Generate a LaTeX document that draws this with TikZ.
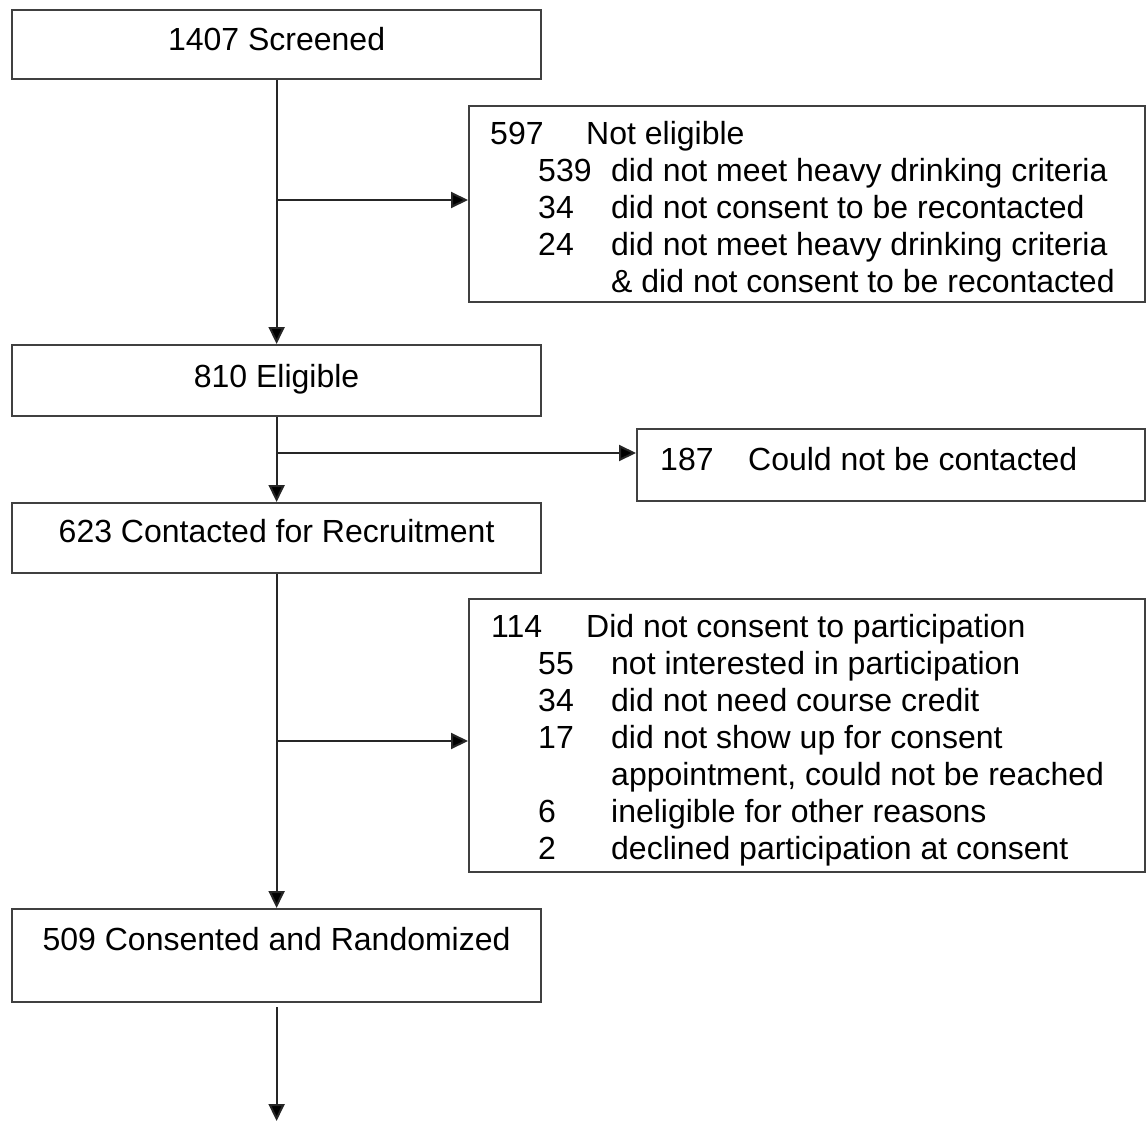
\documentclass[tikz,border=0pt]{standalone}
\usepackage{fontspec}
\setmainfont{Liberation Sans}
\usetikzlibrary{arrows.meta}
\begin{document}
\begin{tikzpicture}[x=1pt,y=1pt,
  every node/.style={font=\fontsize{32}{37}\selectfont},
  mainbox/.style={draw=black!75, line width=2.2pt, anchor=north west, minimum width=529pt, inner xsep=0pt, inner ysep=0pt},
  sidebox/.style={draw=black!75, line width=2.2pt, anchor=north west, inner sep=0pt},
  listtext/.style={anchor=base west, inner sep=0pt},
  arr/.style={line width=2pt, draw=black!85, -{Triangle[length=17pt,width=16pt,fill=black]}}]
\useasboundingbox (0,0) rectangle (1147,-1121);

% main boxes
\node[mainbox, text height=40.5pt, text depth=28.5pt] (scr) at (11,-9) {1407 Screened};
\node[mainbox, text height=42pt, text depth=29pt] (elig) at (11,-344) {810 Eligible};
\node[mainbox, text height=39.5pt, text depth=30.5pt] (cont) at (11,-502) {623 Contacted for Recruitment};
\node[mainbox, text height=41.5pt, text depth=51.5pt] (rand) at (11,-908) {509 Consented and Randomized};

% side boxes
\node[sidebox, minimum width=676pt, minimum height=196pt] (nel) at (468,-105) {};
\node[listtext] (nelt) at (490,-144.5) {\begin{tabular}[t]{@{}l@{}}
\makebox[96pt][l]{597}Not eligible\\
\hspace*{48pt}\makebox[73pt][l]{539}did not meet heavy drinking criteria\\
\hspace*{48pt}\makebox[73pt][l]{34}did not consent to be recontacted\\
\hspace*{48pt}\makebox[73pt][l]{24}did not meet heavy drinking criteria\\
\hspace*{121pt}\& did not consent to be recontacted
\end{tabular}};

\node[sidebox, minimum width=508pt, minimum height=72pt] (ncon) at (636,-428) {};
\node[listtext] (ncont) at (660,-470.5) {\makebox[88pt][l]{187}Could not be contacted};

\node[sidebox, minimum width=676pt, minimum height=273pt] (dnc) at (468,-598) {};
\node[listtext] (dnct) at (491,-637.5) {\begin{tabular}[t]{@{}l@{}}
\makebox[95pt][l]{114}Did not consent to participation\\
\hspace*{47pt}\makebox[73pt][l]{55}not interested in participation\\
\hspace*{47pt}\makebox[73pt][l]{34}did not need course credit\\
\hspace*{47pt}\makebox[73pt][l]{17}did not show up for consent\\
\hspace*{120pt}appointment, could not be reached\\
\hspace*{47pt}\makebox[73pt][l]{6}ineligible for other reasons\\
\hspace*{47pt}\makebox[73pt][l]{2}declined participation at consent
\end{tabular}};

% branch points
\coordinate (b1) at (scr.south |- 0,-200);
\coordinate (b2) at (scr.south |- 0,-453);
\coordinate (b3) at (scr.south |- 0,-741);
\coordinate (fin) at (scr.south |- 0,-1121);

% connectors
\draw[arr] (scr.south) -- (elig.north);
\draw[arr] (elig.south) -- (cont.north);
\draw[arr] (cont.south) -- (rand.north);
\draw[arr, shorten <=4pt] (rand.south) -- (fin);
\draw[arr] (b1) -- (b1 -| nel.west);
\draw[arr] (b2) -- (b2 -| ncon.west);
\draw[arr] (b3) -- (b3 -| dnc.west);
\end{tikzpicture}
\end{document}
